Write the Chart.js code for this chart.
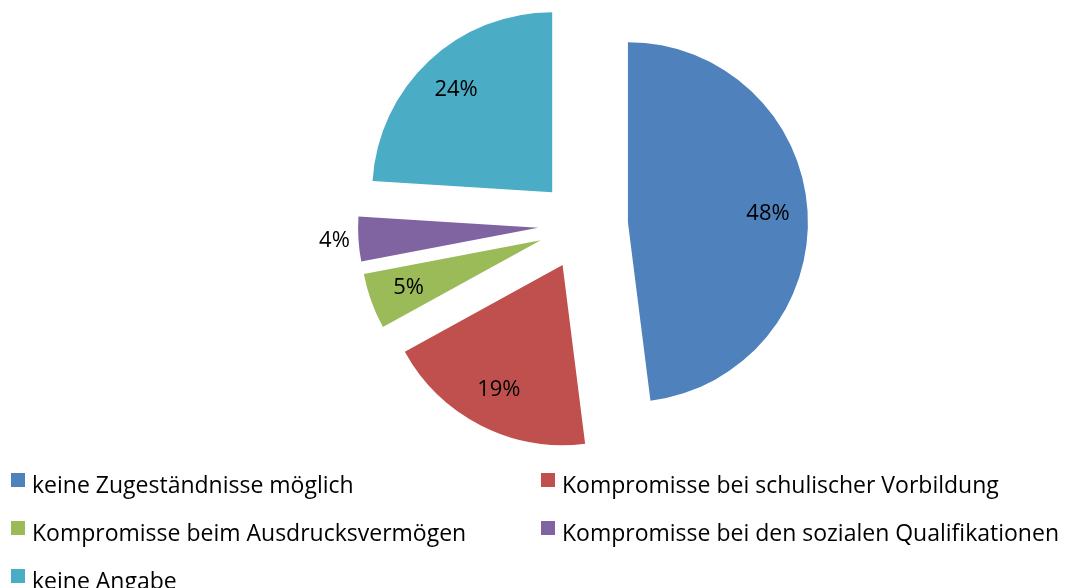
<!DOCTYPE html>
<html>
<head>
<meta charset="utf-8">
<script src="https://cdn.jsdelivr.net/npm/chart.js@4"></script>
<style>
  html, body { margin: 0; padding: 0; background: #fff; }
  #wrap { width: 1066px; height: 588px; }
</style>
</head>
<body>
<div id="wrap"><canvas id="pie"></canvas></div>
<script>
const categories = [
  'keine Zugeständnisse möglich',
  'Kompromisse bei schulischer Vorbildung',
  'Kompromisse beim Ausdrucksvermögen',
  'Kompromisse bei den sozialen Qualifikationen',
  'keine Angabe'
];
const shares = [48, 19, 5, 4, 24];
const colors = ['#4F81BD', '#C0504D', '#9BBB59', '#8064A2', '#4BACC6'];

const EXPLODE = 45;   // px every slice is pulled out
const RADIUS = 180;
const FONT = '"Open Sans", "Noto Sans", sans-serif';

// v4 moves an arc by offset/4 but also grows it and trims its angle,
// so put radius and angle back to what they should be
const explodeFix = {
  id: 'explodeFix',
  beforeDatasetsDraw(chart) {
    const meta = chart.getDatasetMeta(0);
    const base = meta.controller.outerRadius;
    meta.data.forEach(arc => {
      const circ = arc.circumference;
      const fix = 1 - Math.sin(Math.min(Math.PI, circ));
      const ro = EXPLODE * fix;
      const mid = (arc.startAngle + arc.endAngle) / 2;
      const w = ro / (2 * Math.PI * base);
      arc.outerRadius = base - ro;
      arc.startAngle = mid - circ / 2 - w;
      arc.endAngle = mid + circ / 2 + w;
    });
  }
};

// percent labels, inside the slice, small ones outside
const pctLabels = {
  id: 'pctLabels',
  afterDatasetsDraw(chart) {
    const ctx = chart.ctx;
    const meta = chart.getDatasetMeta(0);
    const R = meta.controller.outerRadius;
    ctx.save();
    ctx.font = '22px ' + FONT;
    ctx.fillStyle = '#000';
    ctx.textAlign = 'center';
    ctx.textBaseline = 'middle';
    meta.data.forEach((arc, i) => {
      const mid = (arc.startAngle + arc.endAngle) / 2;
      const v = shares[i];
      const d = EXPLODE + (v < 5 ? R + 24 : R * 0.78);
      ctx.fillText(v + '%', arc.x + Math.cos(mid) * d, arc.y + Math.sin(mid) * d);
    });
    ctx.restore();
  }
};

// two column legend under the pie
const gridLegend = {
  id: 'gridLegend',
  afterDraw(chart) {
    const ctx = chart.ctx;
    ctx.save();
    ctx.font = '23px ' + FONT;
    ctx.textBaseline = 'alphabetic';
    categories.forEach((name, i) => {
      const col = i % 2, row = Math.floor(i / 2);
      const x = 11 + col * 530;
      const y = 480 + row * 48;
      ctx.fillStyle = colors[i];
      ctx.fillRect(x, y - 7, 14, 14);
      ctx.fillStyle = '#000';
      ctx.fillText(name, x + 21, y + 13);
    });
    ctx.restore();
  }
};

new Chart(document.getElementById('pie'), {
  type: 'pie',
  data: {
    labels: categories,
    datasets: [{
      data: shares,
      backgroundColor: colors,
      borderWidth: 0,
      offset: EXPLODE * 4
    }]
  },
  options: {
    responsive: true,
    maintainAspectRatio: false,
    animation: false,
    events: [],
    radius: RADIUS,
    layout: { padding: { left: 100, right: 0, top: 0, bottom: 138 } },
    plugins: {
      legend: { display: false },
      tooltip: { enabled: false },
      title: { display: false }
    }
  },
  plugins: [explodeFix, pctLabels, gridLegend]
});
</script>
</body>
</html>
